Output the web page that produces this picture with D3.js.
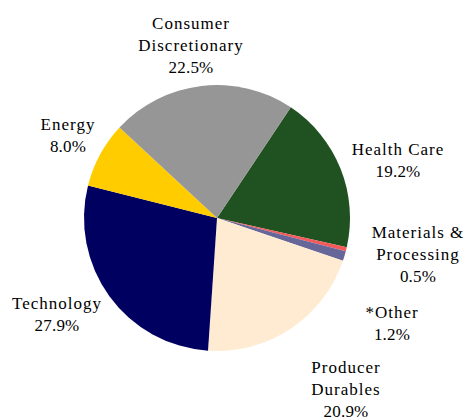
<!DOCTYPE html>
<html>
<head>
<meta charset="utf-8">
<script src="https://cdn.jsdelivr.net/npm/d3@7"></script>
<style>
  html, body { margin: 0; padding: 0; background: #fff; }
  #chart { width: 465px; height: 419px; }
</style>
</head>
<body>
<div id="chart"></div>
<script>
// sectors in clockwise order, starting with Health Care
const sectors = ['Health Care', 'Materials & Processing', '*Other', 'Producer Durables', 'Technology', 'Energy', 'Consumer Discretionary'];
const shares = [19.2, 0.5, 1.2, 20.9, 27.9, 8.0, 22.5];
const colors = ['#1f5220', '#f45a5a', '#666699', '#ffebd2', '#000060', '#ffcc00', '#969696'];
const labelLines = [['Health Care'], ['Materials &', 'Processing'], ['*Other'], ['Producer', 'Durables'], ['Technology'], ['Energy'], ['Consumer', 'Discretionary']];
// label anchor (center x, first baseline y)
const labelPos = [[398, 155], [418, 238], [392, 318], [346, 373], [57, 309], [68, 130], [191, 29]];

const width = 465, height = 419;
const cx = 217, cy = 218, r = 133;
const startDeg = 33.7;

const svg = d3.select('#chart').append('svg').attr('width', width).attr('height', height);

const pie = d3.pie().sort(null)
  .startAngle(startDeg * Math.PI / 180)
  .endAngle((startDeg + 360) * Math.PI / 180);
const arcs = pie(shares);
const arc = d3.arc().innerRadius(0).outerRadius(r);

svg.append('g').attr('transform', `translate(${cx},${cy})`)
  .selectAll('path').data(arcs).enter().append('path')
  .attr('d', arc)
  .attr('fill', (d, i) => colors[i]);

const lh = 22;
const labels = svg.append('g')
  .attr('font-family', '"Liberation Serif", "Times New Roman", serif')
  .attr('font-size', 17)
  .attr('fill', '#000')
  .attr('text-anchor', 'middle');

sectors.forEach((s, i) => {
  const t = labels.append('text').attr('x', labelPos[i][0]).attr('y', labelPos[i][1]);
  const lines = labelLines[i].concat([shares[i].toFixed(1) + '%']);
  lines.forEach((ln, j) => {
    const isPct = j === lines.length - 1;
    t.append('tspan').attr('x', labelPos[i][0]).attr('dy', j === 0 ? 0 : lh)
      .style('letter-spacing', isPct ? '0.2px' : '1px')
      .text(ln);
  });
});
</script>
</body>
</html>
